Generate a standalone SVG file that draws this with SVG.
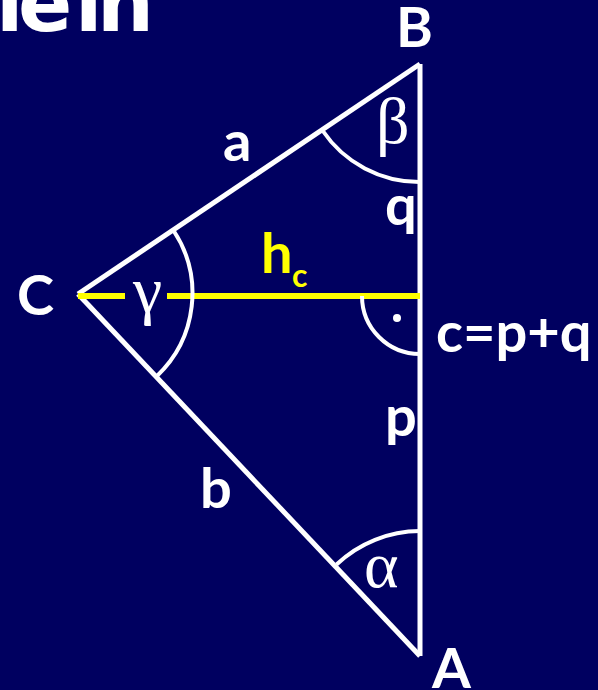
<svg xmlns="http://www.w3.org/2000/svg" width="598" height="690" viewBox="0 0 598 690">
<style>
.lbl{font-family:Lato,"Open Sans","Liberation Sans",sans-serif;font-weight:bold;fill:#fff;font-size:56px}
.gr{font-family:"Liberation Serif","DejaVu Serif",serif;fill:#fff;font-size:66px}
.edge{stroke:#fff;stroke-width:5;fill:none}
.arc{stroke:#fff;stroke-width:4;fill:none}
.alt{stroke:#ff0;stroke-width:6;fill:none}
</style>
<rect width="598" height="690" fill="#000060"/>
<text x="-4 18 75 97" y="31" style="font-family:'DejaVu Sans',sans-serif;font-weight:bold;font-size:80px;fill:#fff">lein</text>
<g id="connectors">
<line class="edge" x1="78" y1="294" x2="420" y2="64"/>
<line class="edge" x1="78" y1="294" x2="420" y2="656"/>
<line class="edge" x1="420" y1="64" x2="420" y2="656"/>
<line class="alt" x1="78" y1="296" x2="125" y2="296"/>
<line class="alt" x1="167" y1="296" x2="420" y2="296"/>
</g>
<g id="angles">
<path class="arc" d="M173.5 230.5 A114 114 0 0 1 156.5 376.5"/>
<path class="arc" d="M322.5 130.5 A117 117 0 0 0 420 182"/>
<path class="arc" d="M336.5 564.5 A122 122 0 0 1 420 531"/>
<path class="arc" d="M362 296 A58 58 0 0 0 420 354"/>
<circle cx="397" cy="318" r="4" fill="#fff"/>
</g>
<g id="vertex-A"><text class="lbl" x="432" y="688">A</text></g>
<g id="vertex-B"><text class="lbl" x="396" y="47">B</text></g>
<g id="vertex-C"><text class="lbl" x="17" y="315">C</text></g>
<g id="side-a"><text class="lbl" x="223" y="161">a</text></g>
<g id="side-b"><text class="lbl" x="200" y="508">b</text></g>
<g id="seg-q"><text class="lbl" x="385" y="225">q</text></g>
<g id="seg-p"><text class="lbl" x="385" y="436">p</text></g>
<g id="side-c"><text class="lbl" x="436" y="352">c=p+q</text></g>
<g id="height-hc"><text x="261" y="273" style="font-family:Lato,'Liberation Sans',sans-serif;font-weight:bold;fill:#ff0;font-size:56px">h<tspan x="292" y="287" style="font-size:32px">c</tspan></text></g>
<g id="angle-alpha"><text class="gr" x="364" y="587">α</text></g>
<g id="angle-beta"><text class="gr" x="376" y="143">β</text></g>
<g id="angle-gamma"><text class="gr" x="133" y="312">γ</text></g>
</svg>
